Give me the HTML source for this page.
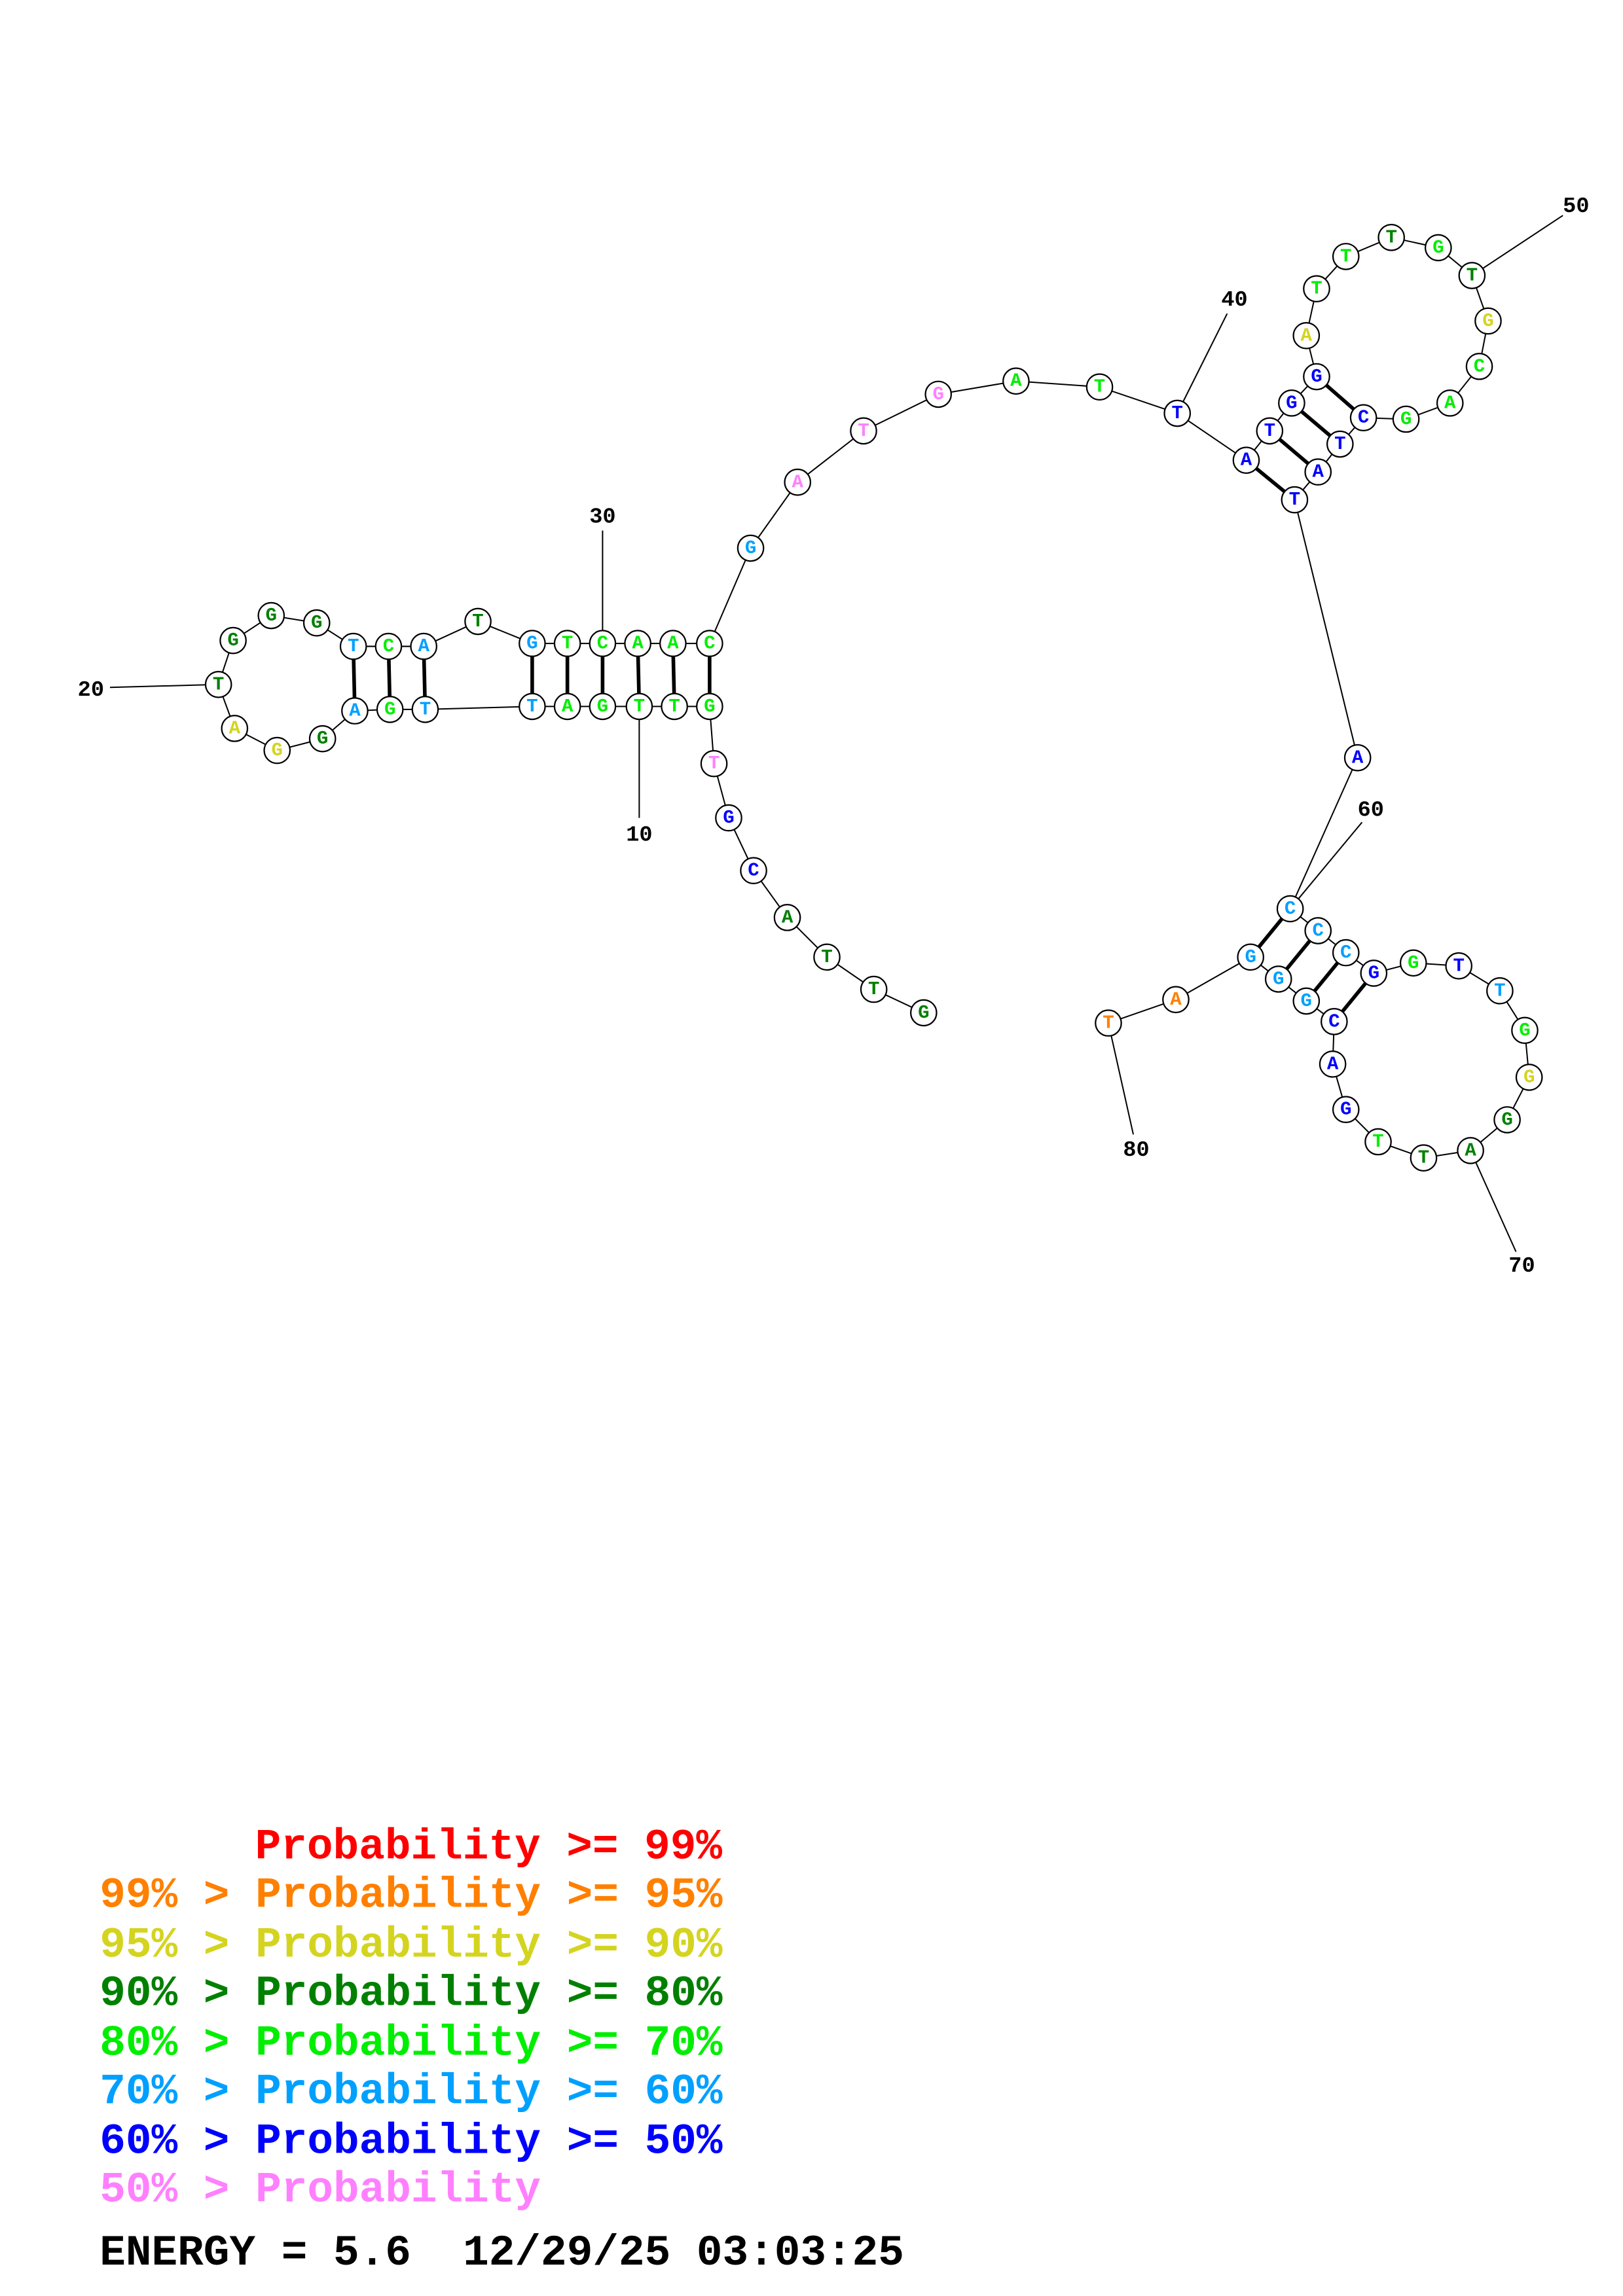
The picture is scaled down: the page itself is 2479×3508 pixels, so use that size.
<!DOCTYPE html>
<html><head><meta charset="utf-8"><style>
html,body{margin:0;padding:0;background:#fff;}
svg{display:block;}
.n circle{fill:#fff;stroke:#000;stroke-width:1;}
.n text{font-family:"Liberation Mono",monospace;font-weight:bold;font-size:13px;text-anchor:middle;dominant-baseline:central;}
.lbl{font-family:"Liberation Mono",monospace;font-weight:bold;font-size:15px;text-anchor:middle;dominant-baseline:central;}
.leg{font-family:"Liberation Mono",monospace;font-weight:bold;font-size:29.5px;}
</style></head><body>
<svg width="2479" height="3508" viewBox="0 0 1107 1566.5" preserveAspectRatio="none" xmlns="http://www.w3.org/2000/svg">
<g stroke="#000" stroke-width="0.9" fill="none">
<polyline points="630,691 596,675 564,653 537,626 514,594 497,558 487,521 484,482 460,482 436,482 411,482 387,482 363,482 290,484 266,484 242,485 220,504 189,512 160,497 149,467 159,437 185,420 216,425 241,441 265,441 289,441 326,424 363,439 387,439 411,439 435,439 459,439 484,439 512,374 544,329 589,294 640,269 693,260 750,264 803,282 850,314 866,294 881,275 898,257 891,229 898,197 918,175 949,162 981,169 1004,188 1015,219 1009,250 989,275 959,286 930,285 914,303 899,322 883,341 926,517 880,620 899,635 918,650 937,664 964,657 995,659 1023,676 1040,703 1043,735 1028,764 1003,785 971,790 940,779 918,757 909,726 910,697 891,683 872,668 853,653 802,682 756,698"/>
<line x1="436" y1="482" x2="436" y2="558"/>
<line x1="149" y1="467" x2="75" y2="469"/>
<line x1="411" y1="439" x2="411" y2="362"/>
<line x1="803" y1="282" x2="837" y2="214"/>
<line x1="1004" y1="188" x2="1066" y2="147"/>
<line x1="880" y1="620" x2="929" y2="561"/>
<line x1="1003" y1="785" x2="1034" y2="854"/>
<line x1="756" y1="698" x2="773" y2="774"/>
</g>
<g stroke="#000" stroke-width="2.5">
<line x1="484" y1="439" x2="484" y2="482"/><line x1="459" y1="439" x2="460" y2="482"/>
<line x1="435" y1="439" x2="436" y2="482"/><line x1="411" y1="439" x2="411" y2="482"/>
<line x1="387" y1="439" x2="387" y2="482"/><line x1="363" y1="439" x2="363" y2="482"/>
<line x1="289" y1="441" x2="290" y2="484"/><line x1="265" y1="441" x2="266" y2="484"/>
<line x1="241" y1="441" x2="242" y2="485"/>
<line x1="850" y1="314" x2="883" y2="341"/><line x1="866" y1="294" x2="899" y2="322"/>
<line x1="881" y1="275" x2="914" y2="303"/><line x1="898" y1="257" x2="930" y2="285"/>
<line x1="880" y1="620" x2="853" y2="653"/><line x1="899" y1="635" x2="872" y2="668"/>
<line x1="918" y1="650" x2="891" y2="683"/><line x1="937" y1="664" x2="910" y2="697"/>
</g>
<g class="n">
<g transform="translate(630,691)"><circle r="8.8"/><text fill="#008000">G</text></g>
<g transform="translate(596,675)"><circle r="8.8"/><text fill="#008000">T</text></g>
<g transform="translate(564,653)"><circle r="8.8"/><text fill="#008000">T</text></g>
<g transform="translate(537,626)"><circle r="8.8"/><text fill="#008000">A</text></g>
<g transform="translate(514,594)"><circle r="8.8"/><text fill="#0000ff">C</text></g>
<g transform="translate(497,558)"><circle r="8.8"/><text fill="#0000ff">G</text></g>
<g transform="translate(487,521)"><circle r="8.8"/><text fill="#ff80ff">T</text></g>
<g transform="translate(484,482)"><circle r="8.8"/><text fill="#00ee00">G</text></g>
<g transform="translate(460,482)"><circle r="8.8"/><text fill="#00ee00">T</text></g>
<g transform="translate(436,482)"><circle r="8.8"/><text fill="#00ee00">T</text></g>
<g transform="translate(411,482)"><circle r="8.8"/><text fill="#00ee00">G</text></g>
<g transform="translate(387,482)"><circle r="8.8"/><text fill="#00ee00">A</text></g>
<g transform="translate(363,482)"><circle r="8.8"/><text fill="#00a0ff">T</text></g>
<g transform="translate(290,484)"><circle r="8.8"/><text fill="#00a0ff">T</text></g>
<g transform="translate(266,484)"><circle r="8.8"/><text fill="#00ee00">G</text></g>
<g transform="translate(242,485)"><circle r="8.8"/><text fill="#00a0ff">A</text></g>
<g transform="translate(220,504)"><circle r="8.8"/><text fill="#008000">G</text></g>
<g transform="translate(189,512)"><circle r="8.8"/><text fill="#d4d420">G</text></g>
<g transform="translate(160,497)"><circle r="8.8"/><text fill="#d4d420">A</text></g>
<g transform="translate(149,467)"><circle r="8.8"/><text fill="#008000">T</text></g>
<g transform="translate(159,437)"><circle r="8.8"/><text fill="#008000">G</text></g>
<g transform="translate(185,420)"><circle r="8.8"/><text fill="#008000">G</text></g>
<g transform="translate(216,425)"><circle r="8.8"/><text fill="#008000">G</text></g>
<g transform="translate(241,441)"><circle r="8.8"/><text fill="#00a0ff">T</text></g>
<g transform="translate(265,441)"><circle r="8.8"/><text fill="#00ee00">C</text></g>
<g transform="translate(289,441)"><circle r="8.8"/><text fill="#00a0ff">A</text></g>
<g transform="translate(326,424)"><circle r="8.8"/><text fill="#008000">T</text></g>
<g transform="translate(363,439)"><circle r="8.8"/><text fill="#00a0ff">G</text></g>
<g transform="translate(387,439)"><circle r="8.8"/><text fill="#00ee00">T</text></g>
<g transform="translate(411,439)"><circle r="8.8"/><text fill="#00ee00">C</text></g>
<g transform="translate(435,439)"><circle r="8.8"/><text fill="#00ee00">A</text></g>
<g transform="translate(459,439)"><circle r="8.8"/><text fill="#00ee00">A</text></g>
<g transform="translate(484,439)"><circle r="8.8"/><text fill="#00ee00">C</text></g>
<g transform="translate(512,374)"><circle r="8.8"/><text fill="#00a0ff">G</text></g>
<g transform="translate(544,329)"><circle r="8.8"/><text fill="#ff80ff">A</text></g>
<g transform="translate(589,294)"><circle r="8.8"/><text fill="#ff80ff">T</text></g>
<g transform="translate(640,269)"><circle r="8.8"/><text fill="#ff80ff">G</text></g>
<g transform="translate(693,260)"><circle r="8.8"/><text fill="#00ee00">A</text></g>
<g transform="translate(750,264)"><circle r="8.8"/><text fill="#00ee00">T</text></g>
<g transform="translate(803,282)"><circle r="8.8"/><text fill="#0000ff">T</text></g>
<g transform="translate(850,314)"><circle r="8.8"/><text fill="#0000ff">A</text></g>
<g transform="translate(866,294)"><circle r="8.8"/><text fill="#0000ff">T</text></g>
<g transform="translate(881,275)"><circle r="8.8"/><text fill="#0000ff">G</text></g>
<g transform="translate(898,257)"><circle r="8.8"/><text fill="#0000ff">G</text></g>
<g transform="translate(891,229)"><circle r="8.8"/><text fill="#d4d420">A</text></g>
<g transform="translate(898,197)"><circle r="8.8"/><text fill="#00ee00">T</text></g>
<g transform="translate(918,175)"><circle r="8.8"/><text fill="#00ee00">T</text></g>
<g transform="translate(949,162)"><circle r="8.8"/><text fill="#008000">T</text></g>
<g transform="translate(981,169)"><circle r="8.8"/><text fill="#00ee00">G</text></g>
<g transform="translate(1004,188)"><circle r="8.8"/><text fill="#008000">T</text></g>
<g transform="translate(1015,219)"><circle r="8.8"/><text fill="#d4d420">G</text></g>
<g transform="translate(1009,250)"><circle r="8.8"/><text fill="#00ee00">C</text></g>
<g transform="translate(989,275)"><circle r="8.8"/><text fill="#00ee00">A</text></g>
<g transform="translate(959,286)"><circle r="8.8"/><text fill="#00ee00">G</text></g>
<g transform="translate(930,285)"><circle r="8.8"/><text fill="#0000ff">C</text></g>
<g transform="translate(914,303)"><circle r="8.8"/><text fill="#0000ff">T</text></g>
<g transform="translate(899,322)"><circle r="8.8"/><text fill="#0000ff">A</text></g>
<g transform="translate(883,341)"><circle r="8.8"/><text fill="#0000ff">T</text></g>
<g transform="translate(926,517)"><circle r="8.8"/><text fill="#0000ff">A</text></g>
<g transform="translate(880,620)"><circle r="8.8"/><text fill="#00a0ff">C</text></g>
<g transform="translate(899,635)"><circle r="8.8"/><text fill="#00a0ff">C</text></g>
<g transform="translate(918,650)"><circle r="8.8"/><text fill="#00a0ff">C</text></g>
<g transform="translate(937,664)"><circle r="8.8"/><text fill="#0000ff">G</text></g>
<g transform="translate(964,657)"><circle r="8.8"/><text fill="#00ee00">G</text></g>
<g transform="translate(995,659)"><circle r="8.8"/><text fill="#0000ff">T</text></g>
<g transform="translate(1023,676)"><circle r="8.8"/><text fill="#00a0ff">T</text></g>
<g transform="translate(1040,703)"><circle r="8.8"/><text fill="#00ee00">G</text></g>
<g transform="translate(1043,735)"><circle r="8.8"/><text fill="#d4d420">G</text></g>
<g transform="translate(1028,764)"><circle r="8.8"/><text fill="#008000">G</text></g>
<g transform="translate(1003,785)"><circle r="8.8"/><text fill="#008000">A</text></g>
<g transform="translate(971,790)"><circle r="8.8"/><text fill="#008000">T</text></g>
<g transform="translate(940,779)"><circle r="8.8"/><text fill="#00ee00">T</text></g>
<g transform="translate(918,757)"><circle r="8.8"/><text fill="#0000ff">G</text></g>
<g transform="translate(909,726)"><circle r="8.8"/><text fill="#0000ff">A</text></g>
<g transform="translate(910,697)"><circle r="8.8"/><text fill="#0000ff">C</text></g>
<g transform="translate(891,683)"><circle r="8.8"/><text fill="#00a0ff">G</text></g>
<g transform="translate(872,668)"><circle r="8.8"/><text fill="#00a0ff">G</text></g>
<g transform="translate(853,653)"><circle r="8.8"/><text fill="#00a0ff">G</text></g>
<g transform="translate(802,682)"><circle r="8.8"/><text fill="#ff8000">A</text></g>
<g transform="translate(756,698)"><circle r="8.8"/><text fill="#ff8000">T</text></g>
</g>
<g class="lbl">
<text x="436" y="570">10</text>
<text x="62" y="471">20</text>
<text x="411" y="353">30</text>
<text x="842" y="205">40</text>
<text x="1075" y="141">50</text>
<text x="935" y="553">60</text>
<text x="1038" y="864">70</text>
<text x="775" y="785">80</text>
</g>
<g class="leg">
<text x="174" y="1268" fill="#ff0000">Probability &gt;= 99%</text>
<text x="68" y="1301" fill="#ff8000">99% &gt; Probability &gt;= 95%</text>
<text x="68" y="1335" fill="#d4d420">95% &gt; Probability &gt;= 90%</text>
<text x="68" y="1368" fill="#008000">90% &gt; Probability &gt;= 80%</text>
<text x="68" y="1402" fill="#00ee00">80% &gt; Probability &gt;= 70%</text>
<text x="68" y="1435" fill="#00a0ff">70% &gt; Probability &gt;= 60%</text>
<text x="68" y="1469" fill="#0000ff">60% &gt; Probability &gt;= 50%</text>
<text x="68" y="1502" fill="#ff80ff">50% &gt; Probability</text>
<text x="68" y="1545" fill="#000" xml:space="preserve">ENERGY = 5.6  12/29/25 03:03:25</text>
</g>
</svg>
</body></html>
